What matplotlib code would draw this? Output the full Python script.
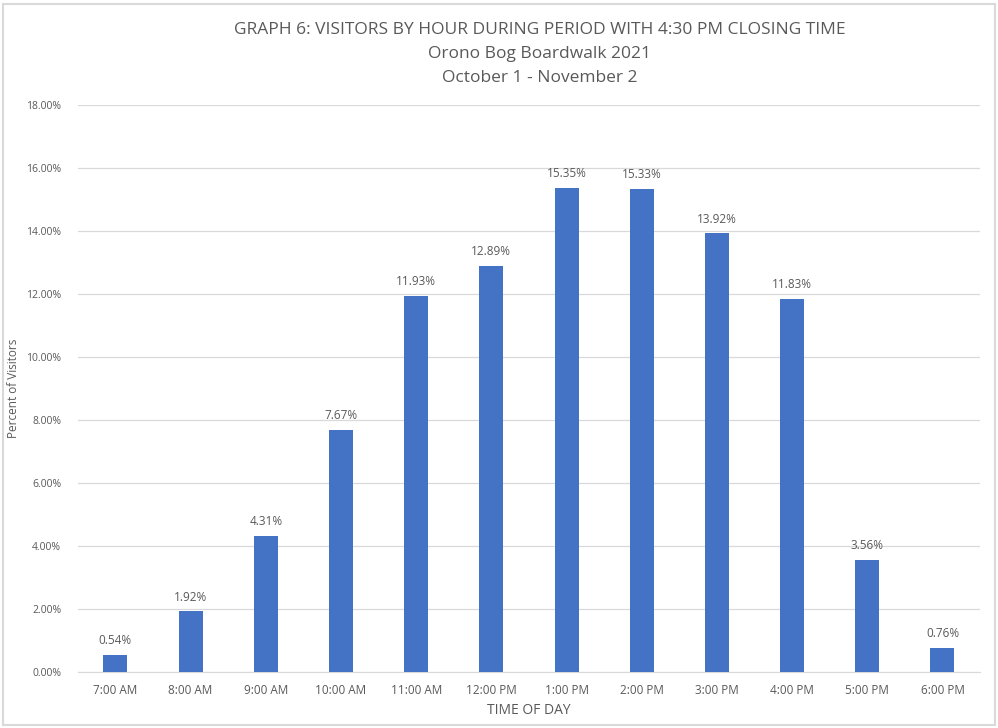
import matplotlib
matplotlib.use("Agg")
import matplotlib.pyplot as plt
from matplotlib.patches import Rectangle

hours = ["7:00 AM", "8:00 AM", "9:00 AM", "10:00 AM", "11:00 AM", "12:00 PM",
         "1:00 PM", "2:00 PM", "3:00 PM", "4:00 PM", "5:00 PM", "6:00 PM"]
percent = [0.54, 1.92, 4.31, 7.67, 11.93, 12.89, 15.35, 15.33, 13.92, 11.83, 3.56, 0.76]
y_ticks = [0, 2, 4, 6, 8, 10, 12, 14, 16, 18]

plt.rcParams["font.family"] = ["Open Sans", "DejaVu Sans"]
text_gray = "#595959"

fig = plt.figure(figsize=(9.98, 7.28), dpi=100)
ax = fig.add_axes([0.078, 0.077, 0.904, 0.779])

x = list(range(len(hours)))
ax.bar(x, percent, width=0.32, color="#4472C4", zorder=3)
for xi, v in zip(x, percent):
    ax.text(xi, v + 0.25, f"{v:.2f}%", ha="center", va="bottom",
            fontsize=8.5, color=text_gray)

ax.set_xlim(-0.5, len(hours) - 0.5)
ax.set_ylim(0, 18)
ax.set_yticks(y_ticks)
ax.set_yticklabels([f"{t:.2f}%" for t in y_ticks])
ax.set_xticks(x)
ax.set_xticklabels(hours)
ax.tick_params(axis="both", length=0, colors=text_gray)
ax.tick_params(axis="x", pad=9, labelsize=8.5)
ax.tick_params(axis="y", pad=12, labelsize=7.5)
ax.grid(axis="y", color="#D9D9D9", linewidth=0.9, zorder=0)
for s in ["top", "right", "left"]:
    ax.spines[s].set_visible(False)
ax.spines["bottom"].set_color("#D9D9D9")

ax.set_xlabel("TIME OF DAY", fontsize=10, color=text_gray, labelpad=4)
fig.text(0.014, 0.466, "Percent of Visitors", rotation=90, ha="center", va="center",
         fontsize=8.5, color=text_gray)

fig.text(0.541, 0.959, "GRAPH 6: VISITORS BY HOUR DURING PERIOD WITH 4:30 PM CLOSING TIME",
         ha="center", va="center", fontsize=12.5, color=text_gray)
fig.text(0.541, 0.926, "Orono Bog Boardwalk 2021", ha="center", va="center",
         fontsize=12.5, color=text_gray)
fig.text(0.541, 0.893, "October 1 - November 2", ha="center", va="center",
         fontsize=12.5, color=text_gray)

fig.patches.append(Rectangle((0.003, 0.004), 0.994, 0.99, transform=fig.transFigure,
                             fill=False, edgecolor="#D9D9D9", linewidth=1.5))

fig.savefig("out.png", dpi=100)
